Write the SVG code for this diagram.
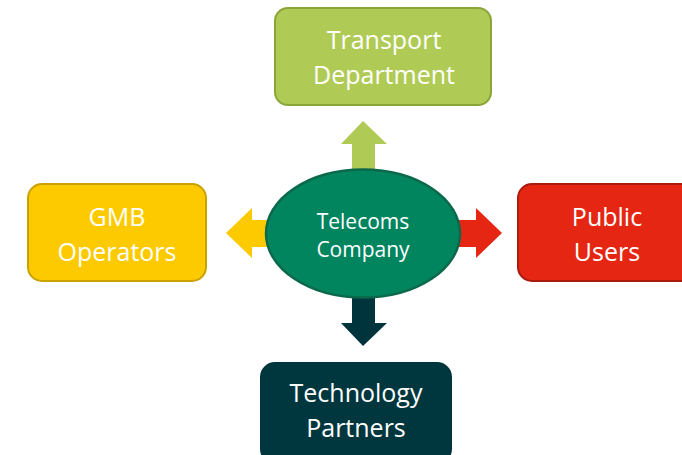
<svg xmlns="http://www.w3.org/2000/svg" width="682" height="455" viewBox="0 0 682 455">
<style>
.lbl{font-family:"Open Sans","Liberation Sans",sans-serif;font-size:25px;fill:#ffffff;text-anchor:middle}
.clbl{font-family:"Open Sans","Liberation Sans",sans-serif;font-size:21px;fill:#ffffff;text-anchor:middle}
.box{stroke-width:2}
</style>
<rect width="682" height="455" fill="#ffffff"/>
<g id="connectors">
<polygon points="363,121 387,144 375,144 375,200 352,200 352,144 341,144" fill="#b0cb55"/>
<polygon points="226,233 252,208 252,220 300,220 300,247 252,247 252,258" fill="#fdca00"/>
<polygon points="502,233 476,208 476,220 430,220 430,247 476,247 476,258" fill="#e52613"/>
<polygon points="363,346 341,323 352,323 352,270 375,270 375,323 387,323" fill="#00343c"/>
</g>
<g id="transport">
<rect class="box" x="275" y="8" width="216" height="97" rx="13" fill="#b0cb55" stroke="#8aa63a"/>
<text class="lbl" x="384" y="49">Transport</text>
<text class="lbl" x="384" y="84">Department</text>
</g>
<g id="gmb">
<rect class="box" x="28" y="184" width="178" height="97" rx="14" fill="#fdca00" stroke="#c9a200"/>
<text class="lbl" x="117" y="226">GMB</text>
<text class="lbl" x="117" y="261">Operators</text>
</g>
<g id="public">
<rect class="box" x="518" y="184" width="180" height="97" rx="14" fill="#e52613" stroke="#a91b0f"/>
<text class="lbl" x="607" y="226">Public</text>
<text class="lbl" x="607" y="261">Users</text>
</g>
<g id="technology">
<rect class="box" x="261" y="363" width="190" height="100" rx="14" fill="#00363d" stroke="#00343c"/>
<text class="lbl" x="356" y="402">Technology</text>
<text class="lbl" x="356" y="437">Partners</text>
</g>
<g id="telecoms">
<ellipse cx="363" cy="233.5" rx="97" ry="64" fill="#00855f" stroke="#0b684a" stroke-width="2.5"/>
<text class="clbl" x="363" y="229">Telecoms</text>
<text class="clbl" x="363" y="257">Company</text>
</g>
</svg>
